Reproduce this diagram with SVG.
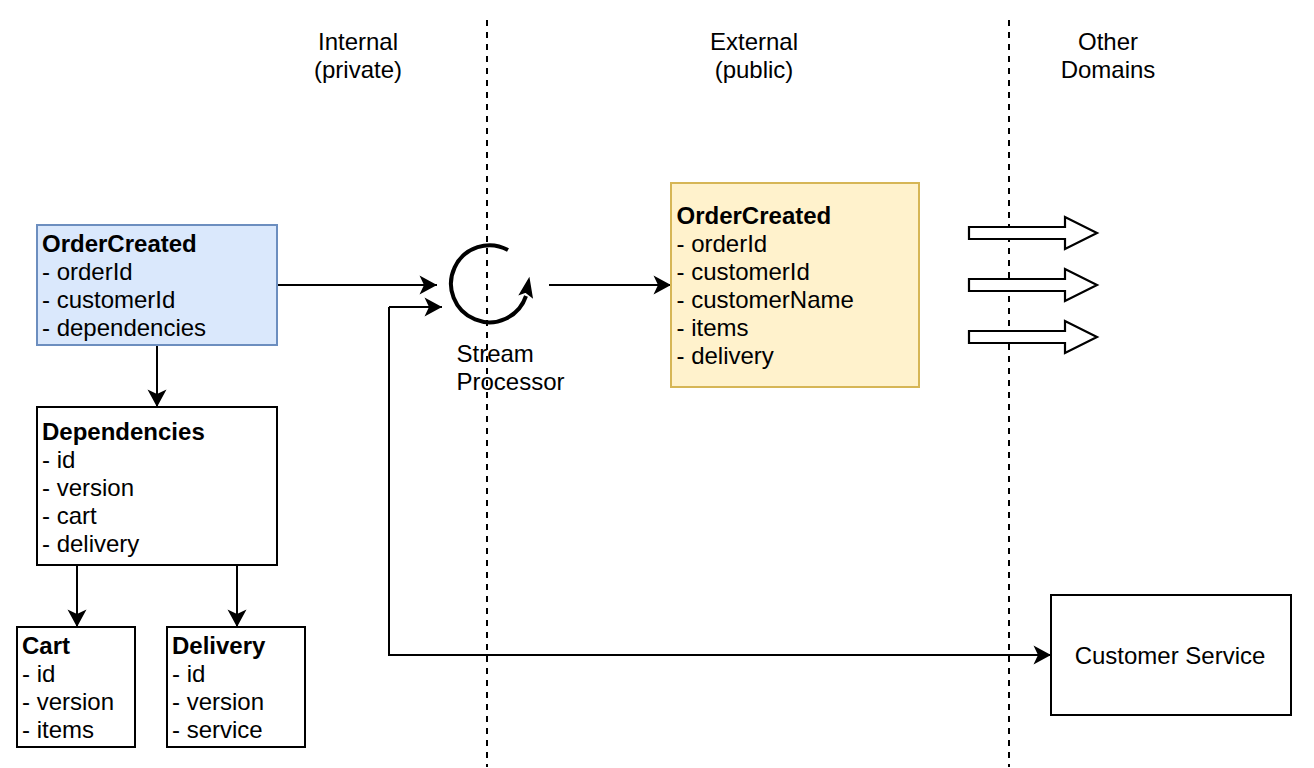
<svg xmlns="http://www.w3.org/2000/svg" width="1314" height="768" viewBox="0 0 1314 768">
<style>
text{font-family:"Liberation Sans",Arial,sans-serif;font-size:24px;fill:#000}
.b{font-weight:bold}
.m{text-anchor:middle}
.box{stroke:#000;stroke-width:2;fill:#fff}
.line{fill:none;stroke:#000;stroke-width:2}
.dash{fill:none;stroke:#000;stroke-width:2;stroke-dasharray:6 6}
.big{fill:#fff;stroke:#000;stroke-width:2.200;stroke-miterlimit:10}
</style>
<defs>
<marker id="a" markerUnits="userSpaceOnUse" markerWidth="22" markerHeight="20" refX="20" refY="9" orient="auto" overflow="visible"><path d="M2.500 -0.500 L20 9 L2.500 18.500 L7 9Z" fill="#000"/></marker>
</defs>
<rect width="1314" height="768" fill="#fff"/>
<g id="lanes">
<path class="dash" d="M487 20V767"/>
<path class="dash" d="M1009 20V767"/>
</g>
<g id="label-internal"><text class="m" x="358" y="50">Internal</text><text class="m" x="358" y="78">(private)</text></g>
<g id="label-external"><text class="m" x="754" y="50">External</text><text class="m" x="754" y="78">(public)</text></g>
<g id="label-other"><text class="m" x="1108" y="50">Other</text><text class="m" x="1108" y="78">Domains</text></g>
<g id="connectors">
<path class="line" d="M277 285H437" marker-end="url(#a)"/>
<path class="line" d="M549 285H671" marker-end="url(#a)"/>
<path class="line" d="M157 345V407" marker-end="url(#a)"/>
<path class="line" d="M77 565V627" marker-end="url(#a)"/>
<path class="line" d="M237 565V627" marker-end="url(#a)"/>
<path class="line" d="M389 307H442" marker-end="url(#a)"/>
<path class="line" d="M389 307V655H1051" marker-end="url(#a)"/>
</g>
<g id="order-created-internal">
<rect x="37" y="225" width="240" height="120" fill="#dae8fc" stroke="#6c8ebf" stroke-width="2"/>
<text class="b" x="42" y="252">OrderCreated</text>
<text x="42" y="280">- orderId</text><text x="42" y="308">- customerId</text><text x="42" y="336">- dependencies</text>
</g>
<g id="dependencies">
<rect class="box" x="37" y="407" width="240" height="158"/>
<text class="b" x="42" y="440">Dependencies</text>
<text x="42" y="468">- id</text><text x="42" y="496">- version</text><text x="42" y="524">- cart</text><text x="42" y="552">- delivery</text>
</g>
<g id="cart">
<rect class="box" x="17" y="627" width="118" height="120"/>
<text class="b" x="22" y="654">Cart</text>
<text x="22" y="682">- id</text><text x="22" y="710">- version</text><text x="22" y="738">- items</text>
</g>
<g id="delivery">
<rect class="box" x="167" y="627" width="138" height="120"/>
<text class="b" x="172" y="654">Delivery</text>
<text x="172" y="682">- id</text><text x="172" y="710">- version</text><text x="172" y="738">- service</text>
</g>
<g id="stream-processor">
<path d="M508 250 A38.500 38.500 0 1 0 526 296" fill="none" stroke="#000" stroke-width="4"/>
<path d="M529 279 L520 294 L525.500 292 L532 297Z" fill="#000" stroke="#000" stroke-width="1.500"/>
<text x="456.500" y="362">Stream</text><text x="456.500" y="390">Processor</text>
</g>
<g id="order-created-external">
<rect x="671" y="183" width="248" height="204" fill="#fff2cc" stroke="#d6b656" stroke-width="2"/>
<text class="b" x="676.500" y="224">OrderCreated</text>
<text x="676.500" y="252">- orderId</text><text x="676.500" y="280">- customerId</text><text x="676.500" y="308">- customerName</text><text x="676.500" y="336">- items</text><text x="676.500" y="364">- delivery</text>
</g>
<g id="arrow-1"><path class="big" d="M969 227H1065V217L1097 233L1065 249V239H969Z"/></g>
<g id="arrow-2"><path class="big" d="M969 279H1065V269L1097 285L1065 301V291H969Z"/></g>
<g id="arrow-3"><path class="big" d="M969 331H1065V321L1097 337L1065 353V343H969Z"/></g>
<g id="customer-service">
<rect class="box" x="1051" y="595" width="240" height="120"/>
<text class="m" x="1170" y="664">Customer Service</text>
</g>
</svg>
